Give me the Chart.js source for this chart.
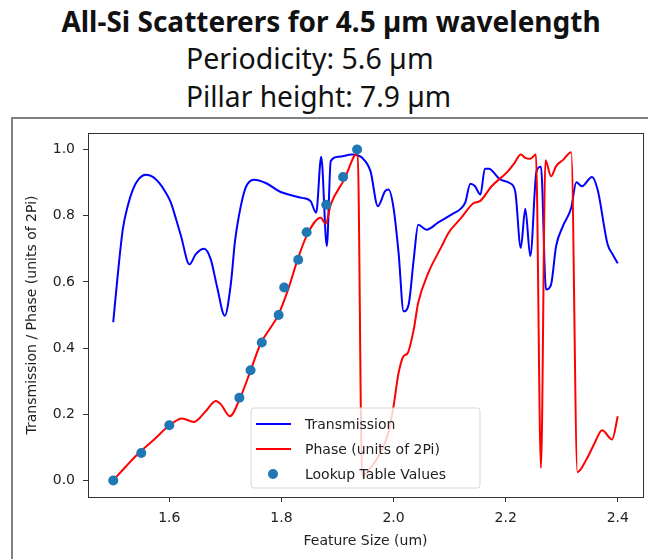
<!DOCTYPE html>
<html>
<head>
<meta charset="utf-8">
<script src="https://cdn.jsdelivr.net/npm/chart.js@4.4.0/dist/chart.umd.min.js"></script>
<style>
  body { margin: 0; background: #fff; width: 648px; height: 559px; overflow: hidden; position: relative; }
  .hdr { position: absolute; font-family: "Noto Sans", sans-serif; color: #111; white-space: nowrap; line-height: 1.2; }
  #t1 { left: 0; width: 662px; text-align: center; top: 5px; font-size: 28px; font-weight: bold; }
  #t2 { left: 186px; top: 41px; font-size: 28.5px; }
  #t3 { left: 186px; top: 80px; font-size: 28.2px; }
  #frame { position: absolute; left: 11px; top: 117px; width: 700px; height: 500px; border-left: 2px solid #808080; border-top: 2px solid #808080; }
  #myChart { position: absolute; left: 0; top: 0; }
</style>
</head>
<body>
<div class="hdr" id="t1">All-Si Scatterers for 4.5 µm wavelength</div>
<div class="hdr" id="t2">Periodicity: 5.6 µm</div>
<div class="hdr" id="t3">Pillar height: 7.9 µm</div>
<div id="frame"></div>
<canvas id="myChart" width="648" height="559"></canvas>
<script>
// transmission curve (blue)
var transX = [1.500, 1.508, 1.517, 1.526, 1.535, 1.546, 1.558, 1.570, 1.582, 1.593, 1.603, 1.612, 1.621, 1.636, 1.647, 1.662, 1.674, 1.685, 1.699, 1.710,
  1.717, 1.724, 1.736, 1.751, 1.772, 1.796, 1.819, 1.837, 1.852, 1.862, 1.871, 1.881, 1.888, 1.902, 1.926, 1.944, 1.959, 1.972, 1.985, 1.991,
  2.000, 2.009, 2.018, 2.027, 2.036, 2.044, 2.059, 2.080, 2.104, 2.119, 2.128, 2.137, 2.145, 2.155, 2.163, 2.170, 2.189, 2.207, 2.217, 2.227,
  2.235, 2.244, 2.255, 2.263, 2.272, 2.281, 2.290, 2.302, 2.317, 2.326, 2.336, 2.354, 2.364, 2.382, 2.391, 2.400];
var transY = [0.478, 0.620, 0.758, 0.830, 0.879, 0.912, 0.924, 0.918, 0.899, 0.872, 0.839, 0.790, 0.738, 0.653, 0.683, 0.700, 0.668, 0.587, 0.498, 0.597,
  0.720, 0.798, 0.884, 0.909, 0.899, 0.874, 0.861, 0.854, 0.844, 0.809, 0.978, 0.708, 0.965, 0.978, 0.985, 0.975, 0.934, 0.829, 0.874, 0.879,
  0.824, 0.688, 0.511, 0.532, 0.668, 0.773, 0.758, 0.780, 0.804, 0.820, 0.840, 0.897, 0.890, 0.864, 0.942, 0.942, 0.911, 0.899, 0.874, 0.703,
  0.821, 0.678, 0.934, 0.948, 0.577, 0.592, 0.708, 0.768, 0.824, 0.901, 0.889, 0.917, 0.879, 0.713, 0.683, 0.656];

// phase curve (red), units of 2Pi
var phaseX = [1.500, 1.523, 1.547, 1.573, 1.600, 1.623, 1.644, 1.665, 1.683, 1.692, 1.708, 1.727, 1.745, 1.763, 1.780, 1.794, 1.813, 1.828, 1.846, 1.870,
  1.879, 1.888, 1.912, 1.936, 1.944, 1.960, 1.973, 1.991, 2.000, 2.009, 2.018, 2.025, 2.036, 2.044, 2.062, 2.086, 2.098, 2.121, 2.142, 2.154,
  2.175, 2.204, 2.216, 2.227, 2.235, 2.244, 2.254, 2.263, 2.271, 2.281, 2.290, 2.302, 2.317, 2.328, 2.344, 2.359, 2.372, 2.390, 2.400];
var phaseY = [0.000, 0.043, 0.085, 0.124, 0.166, 0.187, 0.177, 0.209, 0.240, 0.230, 0.194, 0.252, 0.332, 0.414, 0.460, 0.499, 0.582, 0.663, 0.743, 0.794,
  0.776, 0.834, 0.909, 0.990, 0.013, 0.040, 0.073, 0.145, 0.224, 0.325, 0.376, 0.384, 0.456, 0.537, 0.627, 0.708, 0.748, 0.794, 0.837, 0.844,
  0.889, 0.934, 0.960, 0.985, 0.975, 0.972, 0.985, 0.038, 0.968, 0.919, 0.950, 0.968, 0.992, 0.025, 0.063, 0.114, 0.152, 0.124, 0.194];

// lookup table dots
var lutX = [1.500, 1.550, 1.600, 1.725, 1.745, 1.765, 1.795, 1.805, 1.830, 1.845, 1.880, 1.910, 1.935];
var lutY = [0.000, 0.083, 0.167, 0.250, 0.333, 0.417, 0.500, 0.583, 0.667, 0.750, 0.833, 0.917, 1.000];

var xTicks = [1.6, 1.8, 2.0, 2.2, 2.4];
var xTickLabels = ["1.6", "1.8", "2.0", "2.2", "2.4"];
var yTicks = [0, 0.2, 0.4, 0.6, 0.8, 1.0];
var yTickLabels = ["0.0", "0.2", "0.4", "0.6", "0.8", "1.0"];

var seriesNames = ["Transmission", "Phase (units of 2Pi)", "Lookup Table Values"];

function pts(xs, ys) {
  var out = [];
  for (var i = 0; i < xs.length; i++) out.push({ x: xs[i], y: ys[i] });
  return out;
}

// black box round the plot (top + right spines)
var boxPlugin = {
  id: 'box',
  afterDatasetsDraw: function (chart) {
    var a = chart.chartArea, ctx = chart.ctx;
    ctx.save();
    ctx.strokeStyle = '#333';
    ctx.lineWidth = 1;
    ctx.strokeRect(Math.round(a.left) + 0.5, Math.round(a.top) + 0.5, Math.round(a.right - a.left), Math.round(a.bottom - a.top));
    ctx.restore();
  }
};

// matplotlib-like legend, lower centre of the plot
var legendPlugin = {
  id: 'mplLegend',
  afterDraw: function (chart) {
    var a = chart.chartArea, ctx = chart.ctx;
    var w = 229, h = 80;
    var left = (a.left + a.right) / 2 - w / 2;
    var top = a.bottom - 9 - h;
    ctx.save();
    ctx.beginPath();
    ctx.roundRect(left, top, w, h, 3);
    ctx.fillStyle = 'rgba(255,255,255,0.8)';
    ctx.fill();
    ctx.strokeStyle = '#d6d6d6';
    ctx.lineWidth = 1;
    ctx.stroke();
    ctx.font = '14px "DejaVu Sans"';
    ctx.textBaseline = 'middle';
    ctx.fillStyle = '#222';
    var ds = chart.data.datasets;
    for (var i = 0; i < ds.length; i++) {
      var y = top + 16 + i * 25;
      if (ds[i].showLine === false) {
        ctx.beginPath();
        ctx.arc(left + 22, y, 5, 0, Math.PI * 2);
        ctx.fillStyle = ds[i].backgroundColor;
        ctx.fill();
      } else {
        ctx.beginPath();
        ctx.moveTo(left + 5, y);
        ctx.lineTo(left + 40, y);
        ctx.strokeStyle = ds[i].borderColor;
        ctx.lineWidth = 2;
        ctx.stroke();
      }
      ctx.fillStyle = '#222';
      ctx.fillText(ds[i].label, left + 54, y + 1);
    }
    ctx.restore();
  }
};

var ctx = document.getElementById('myChart').getContext('2d');
var chart = new Chart(ctx, {
  type: 'line',
  data: {
    datasets: [{
      label: seriesNames[0],
      data: pts(transX, transY),
      borderColor: '#0000ff',
      backgroundColor: '#0000ff',
      borderWidth: 2,
      pointRadius: 0,
      cubicInterpolationMode: 'monotone',
      order: 3
    }, {
      label: seriesNames[1],
      data: pts(phaseX, phaseY),
      borderColor: '#ff0000',
      backgroundColor: '#ff0000',
      borderWidth: 2,
      pointRadius: 0,
      cubicInterpolationMode: 'monotone',
      order: 2
    }, {
      label: seriesNames[2],
      data: pts(lutX, lutY),
      showLine: false,
      backgroundColor: '#1f77b4',
      borderWidth: 0,
      pointRadius: 5,
      order: 1
    }]
  },
  options: {
    responsive: false,
    animation: false,
    layout: { padding: { top: 133, right: 3, left: 0, bottom: 0 } },
    plugins: { legend: { display: false }, tooltip: { enabled: false } },
    scales: {
      x: {
        type: 'linear',
        min: 1.455,
        max: 2.445,
        afterFit: function (s) { s.height = 62; },
        afterBuildTicks: function (s) { s.ticks = xTicks.map(function (v) { return { value: v }; }); },
        ticks: {
          padding: 8,
          color: '#222',
          font: { family: 'DejaVu Sans', size: 14 },
          callback: function (v) { return xTickLabels[xTicks.indexOf(v)]; }
        },
        grid: { drawOnChartArea: false, drawTicks: true, tickLength: 5, tickColor: '#333' },
        border: { display: true, color: '#333', width: 1 },
        title: {
          display: true,
          text: 'Feature Size (um)',
          color: '#222',
          font: { family: 'DejaVu Sans', size: 14 },
          padding: { top: 0, bottom: 9 }
        }
      },
      y: {
        min: -0.05,
        max: 1.05,
        afterFit: function (s) { s.width = 88; },
        afterBuildTicks: function (s) { s.ticks = yTicks.map(function (v) { return { value: v }; }); },
        ticks: {
          padding: 8,
          color: '#222',
          font: { family: 'DejaVu Sans', size: 14 },
          callback: function (v) { return yTickLabels[yTicks.indexOf(v)]; }
        },
        grid: { drawOnChartArea: false, drawTicks: true, tickLength: 5, tickColor: '#333' },
        border: { display: true, color: '#333', width: 1 },
        title: {
          display: true,
          text: 'Transmission / Phase (units of 2Pi)',
          color: '#222',
          font: { family: 'DejaVu Sans', size: 14 },
          padding: { top: 24, bottom: 0 }
        }
      }
    }
  },
  plugins: [boxPlugin, legendPlugin]
});
</script>
</body>
</html>
